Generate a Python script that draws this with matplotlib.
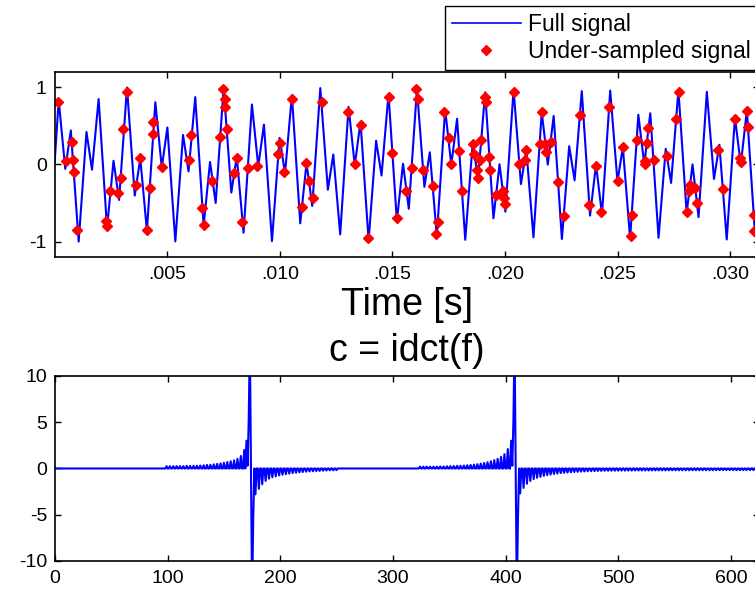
import matplotlib

matplotlib.use("Agg")
import matplotlib.pyplot as plt  # noqa: E402

# ---- upper panel: full signal, local extrema (ms, amplitude)
sig_t_ms = [0.0,
            0.186, 0.477, 0.724, 1.072, 1.419, 1.665, 1.958, 2.331, 2.619, 2.866,
            3.217, 3.562, 3.807, 4.102, 4.475, 4.761, 5.010, 5.362, 5.705, 5.949,
            6.247, 6.619, 6.903, 7.153, 7.507, 7.848, 8.090, 8.391, 8.763, 9.044,
            9.296, 9.652, 9.990, 10.232, 10.536, 10.907, 11.186, 11.439, 11.797, 12.133,
            12.374, 12.681, 13.052, 13.328, 13.582, 13.942, 14.275, 14.516, 14.825, 15.196,
            15.469, 15.726, 16.087, 16.418, 16.658, 16.970, 17.339, 17.611, 17.869, 18.231,
            18.560, 18.801, 19.115, 19.483, 19.753, 20.013, 20.376, 20.703, 20.943, 21.259,
            21.627, 21.895, 22.156, 22.521, 22.845, 23.085, 23.404, 23.771, 24.036, 24.300,
            24.666, 24.987, 25.227, 25.549, 25.915, 26.178, 26.444, 26.811, 27.129, 27.369,
            27.693, 28.058, 28.320, 28.587, 28.955, 29.272, 29.512, 29.838, 30.202, 30.461,
            30.731, 31.100, 31.414]
sig_v = [0.0,
         0.836, -0.057, 0.441, -1.000, 0.422, -0.068, 0.849, -0.822, 0.048, -0.460,
         0.999, -0.403, 0.079, -0.861, 0.808, -0.040, 0.480, -0.998, 0.383, -0.090,
         0.874, -0.793, 0.032, -0.499, 0.996, -0.364, 0.102, -0.885, 0.778, -0.025,
         0.518, -0.994, 0.345, -0.115, 0.897, -0.763, 0.019, -0.537, 0.991, -0.327,
         0.129, -0.907, 0.747, -0.013, 0.556, -0.987, 0.308, -0.143, 0.917, -0.731,
         0.009, -0.575, 0.982, -0.290, 0.158, -0.927, 0.715, -0.005, 0.593, -0.977,
         0.272, -0.173, 0.936, -0.698, 0.003, -0.612, 0.972, -0.254, 0.189, -0.944,
         0.681, -0.001, 0.630, -0.966, 0.237, -0.205, 0.952, -0.663, 0.000, -0.648,
         0.959, -0.220, 0.222, -0.960, 0.645, 0.000, 0.665, -0.951, 0.203, -0.239,
         0.966, -0.627, 0.001, -0.683, 0.943, -0.187, 0.256, -0.973, 0.609, -0.003,
         0.700, -0.935, 0.171]

# under-sampled points (red)
samp_t_ms = [0.175, 0.50, 0.78, 0.81, 0.87, 0.99, 2.28, 2.35, 2.46, 2.80,
             2.95, 3.06, 3.21, 3.62, 3.78, 4.11, 4.24, 4.35, 4.38, 4.76,
             6.08, 5.99, 6.54, 6.62, 7.01, 7.35, 7.50, 7.55, 7.58, 7.64,
             7.98, 8.11, 8.32, 8.57, 9.01, 9.91, 10.02, 10.20, 10.56,
             11.17, 11.29, 11.00, 11.48, 11.86, 13.01, 13.32, 13.60, 13.93, 14.84,
             14.99, 15.20, 15.62, 15.85,
             16.06, 16.12, 16.35, 16.79, 17.03, 16.95, 17.30, 17.50, 17.62, 17.97,
             18.08, 18.57, 18.64, 18.74, 18.81, 18.94, 18.87, 19.10, 19.14, 19.30,
             19.34, 19.61, 19.90, 19.94, 19.98, 20.39, 20.62, 20.88, 20.95,
             21.66, 21.53, 21.79, 21.83, 22.02, 22.36, 22.60, 23.32, 23.74, 24.05,
             24.27, 24.62, 24.99, 25.24, 25.59, 25.64, 25.84, 26.19, 26.22, 26.30,
             26.36, 26.59,
             27.19, 27.59, 27.71, 28.08, 28.21, 28.18, 28.45, 28.51, 29.47, 29.67,
             30.22, 30.43, 30.45, 30.75, 30.80, 31.04, 31.07]
samp_v = [0.81, 0.04, 0.29, 0.06, -0.10, -0.85, -0.73, -0.80, -0.35, -0.37,
          -0.17, 0.46, 0.94, -0.26, 0.08, -0.85, -0.30, 0.39, 0.55, -0.03,
          0.38, 0.06, -0.57, -0.79, -0.21, 0.36, 0.98, 0.85, 0.74, 0.46,
          -0.11, 0.08, -0.74, -0.05, -0.02, 0.13, 0.28, -0.10, 0.85,
          0.02, -0.21, -0.55, -0.43, 0.81, 0.68, 0.00, 0.51, -0.95, 0.88,
          0.15, -0.70, -0.35, -0.04,
          0.98, 0.85, -0.07, -0.28, -0.75, -0.90, 0.68, 0.34, 0.00, 0.17,
          -0.34, 0.26, 0.13, -0.07, -0.17, 0.32, 0.06, 0.88, 0.81, 0.10,
          -0.07, -0.39, -0.35, -0.43, -0.51, 0.94, 0.00, 0.06, 0.19,
          0.68, 0.26, 0.26, 0.16, 0.29, -0.23, -0.67, 0.64, -0.53, -0.02,
          -0.62, 0.74, -0.21, 0.23, -0.93, -0.66, 0.32, 0.00, 0.05, 0.28,
          0.47, 0.06,
          0.11, 0.59, 0.94, -0.62, -0.26, -0.35, -0.30, -0.50, 0.19, -0.32,
          0.59, 0.08, 0.03, 0.70, 0.48, -0.66, -0.86]

time_ticks = [0.005, 0.010, 0.015, 0.020, 0.025, 0.030]
time_labels = [".005", ".010", ".015", ".020", ".025", ".030"]

# ---- lower panel: c = idct(f), zero except two lobes around the tones
# each lobe: rising ripple peaks (every 3rd coefficient), the spike itself,
# then the negative ripple troughs on the far side
lobe1_start = 98
lobe1_rise = [0.25, 0.25, 0.25, 0.25, 0.25, 0.25, 0.28, 0.28, 0.3, 0.3, 0.32, 0.35,
              0.38, 0.4, 0.45, 0.5, 0.55, 0.62, 0.7, 0.78, 0.88, 1.05, 1.35, 2.0]
lobe1_core = [3.0, 0.3, 5.2, 14.0, 0.2, -14.0, -5.5]
lobe1_tail = [2.8, 2.2, 1.7, 1.35, 1.1, 0.95, 0.85, 0.75, 0.68, 0.62, 0.56, 0.5,
              0.46, 0.42, 0.38, 0.35, 0.32, 0.3, 0.28, 0.26, 0.24, 0.22, 0.2, 0.2, 0.18]

lobe2_start = 323
lobe2_rise = [0.2, 0.2, 0.2, 0.2, 0.2, 0.2, 0.22, 0.22, 0.24, 0.25, 0.27, 0.29, 0.3,
              0.32, 0.35, 0.38, 0.42, 0.47, 0.53, 0.6, 0.68, 0.78, 0.9, 1.05, 1.25,
              1.55, 2.1]
lobe2_core = [0.0, 3.0, 0.3, 5.2, 14.0, 0.2, -14.0, -5.5]
lobe2_tail = [2.7, 2.1, 1.65, 1.35, 1.15, 1.0, 0.9, 0.8, 0.72, 0.66,
              0.6, 0.55, 0.5, 0.47, 0.44, 0.41, 0.38, 0.36, 0.34, 0.32,
              0.3, 0.29, 0.28, 0.27, 0.26, 0.25, 0.25, 0.24, 0.24, 0.24,
              0.23, 0.23, 0.23, 0.23, 0.22, 0.22, 0.22, 0.22, 0.22, 0.21,
              0.21, 0.21, 0.21, 0.21, 0.2, 0.2, 0.2, 0.2, 0.2, 0.2,
              0.2, 0.19, 0.19, 0.19, 0.19, 0.19, 0.19, 0.19, 0.18, 0.18,
              0.18, 0.18, 0.18, 0.18, 0.18, 0.18, 0.18, 0.17, 0.17, 0.17, 0.17]
n_coef = 625


def lobe(start, rise, core, tail):
    vals = []
    for p in rise:
        vals += [0.0, p, 0.0]
    vals += core
    for q in tail:
        vals += [0.0, -q, 0.0]
    return list(range(start, start + len(vals))), vals


plt.rcParams.update({
    "font.family": ["Liberation Sans", "DejaVu Sans"],
    "font.size": 14,
    "axes.linewidth": 1.2,
    "axes.unicode_minus": False,
    "xtick.direction": "in",
    "ytick.direction": "in",
    "xtick.top": True,
    "ytick.right": True,
    "xtick.major.size": 4.5,
    "ytick.major.size": 4.5,
    "xtick.major.width": 1.0,
    "ytick.major.width": 1.0,
    "xtick.major.pad": 6.5,
    "ytick.major.pad": 5.5,
    "xtick.labelsize": 14,
    "ytick.labelsize": 14,
})

fig = plt.figure(figsize=(7.55, 5.92), dpi=100)
ax1 = fig.add_axes([0.0722, 0.5659, 0.9325, 0.3125])
ax2 = fig.add_axes([0.0728, 0.0524, 0.9325, 0.3125])

# upper panel
ax1.plot([t / 1e3 for t in sig_t_ms], sig_v, color="#0000ff", lw=1.5, label="Full signal")
ax1.plot([t / 1e3 for t in samp_t_ms], samp_v, ls="none", marker="D", ms=4.6,
         color="#ff0000", mec="#ff0000", label="Under-sampled signal")
ax1.set_xlim(0, 1 / 32)
ax1.set_ylim(-1.2, 1.2)
ax1.set_xticks(time_ticks, time_labels)
ax1.set_yticks([-1, 0, 1])
ax1.set_xlabel("Time [s]", fontsize=27, labelpad=3)

leg = ax1.legend(loc="upper left", bbox_to_anchor=(445 / 755, 1 - 6 / 592),
                 bbox_transform=fig.transFigure, fontsize=16.5, numpoints=1,
                 handlelength=3.0, handletextpad=0.3, borderpad=0.3, labelspacing=0.2,
                 borderaxespad=0, fancybox=False, framealpha=1, edgecolor="black")
leg.get_frame().set_linewidth(1.0)
leg.get_lines()[0].set_linewidth(1.2)

# lower panel
i1, v1 = lobe(lobe1_start, lobe1_rise, lobe1_core, lobe1_tail)
i2, v2 = lobe(lobe2_start, lobe2_rise, lobe2_core, lobe2_tail)
ax2.plot([0] + i1 + i2, [0.0] + v1 + v2, color="#0000ff", lw=1.5)
ax2.set_xlim(0, n_coef)
ax2.set_ylim(-10, 10)
ax2.set_xticks([0, 100, 200, 300, 400, 500, 600])
ax2.set_yticks([-10, -5, 0, 5, 10])
ax2.set_title("c = idct(f)", fontsize=27, pad=11)

fig.savefig("out.png", dpi=100)
